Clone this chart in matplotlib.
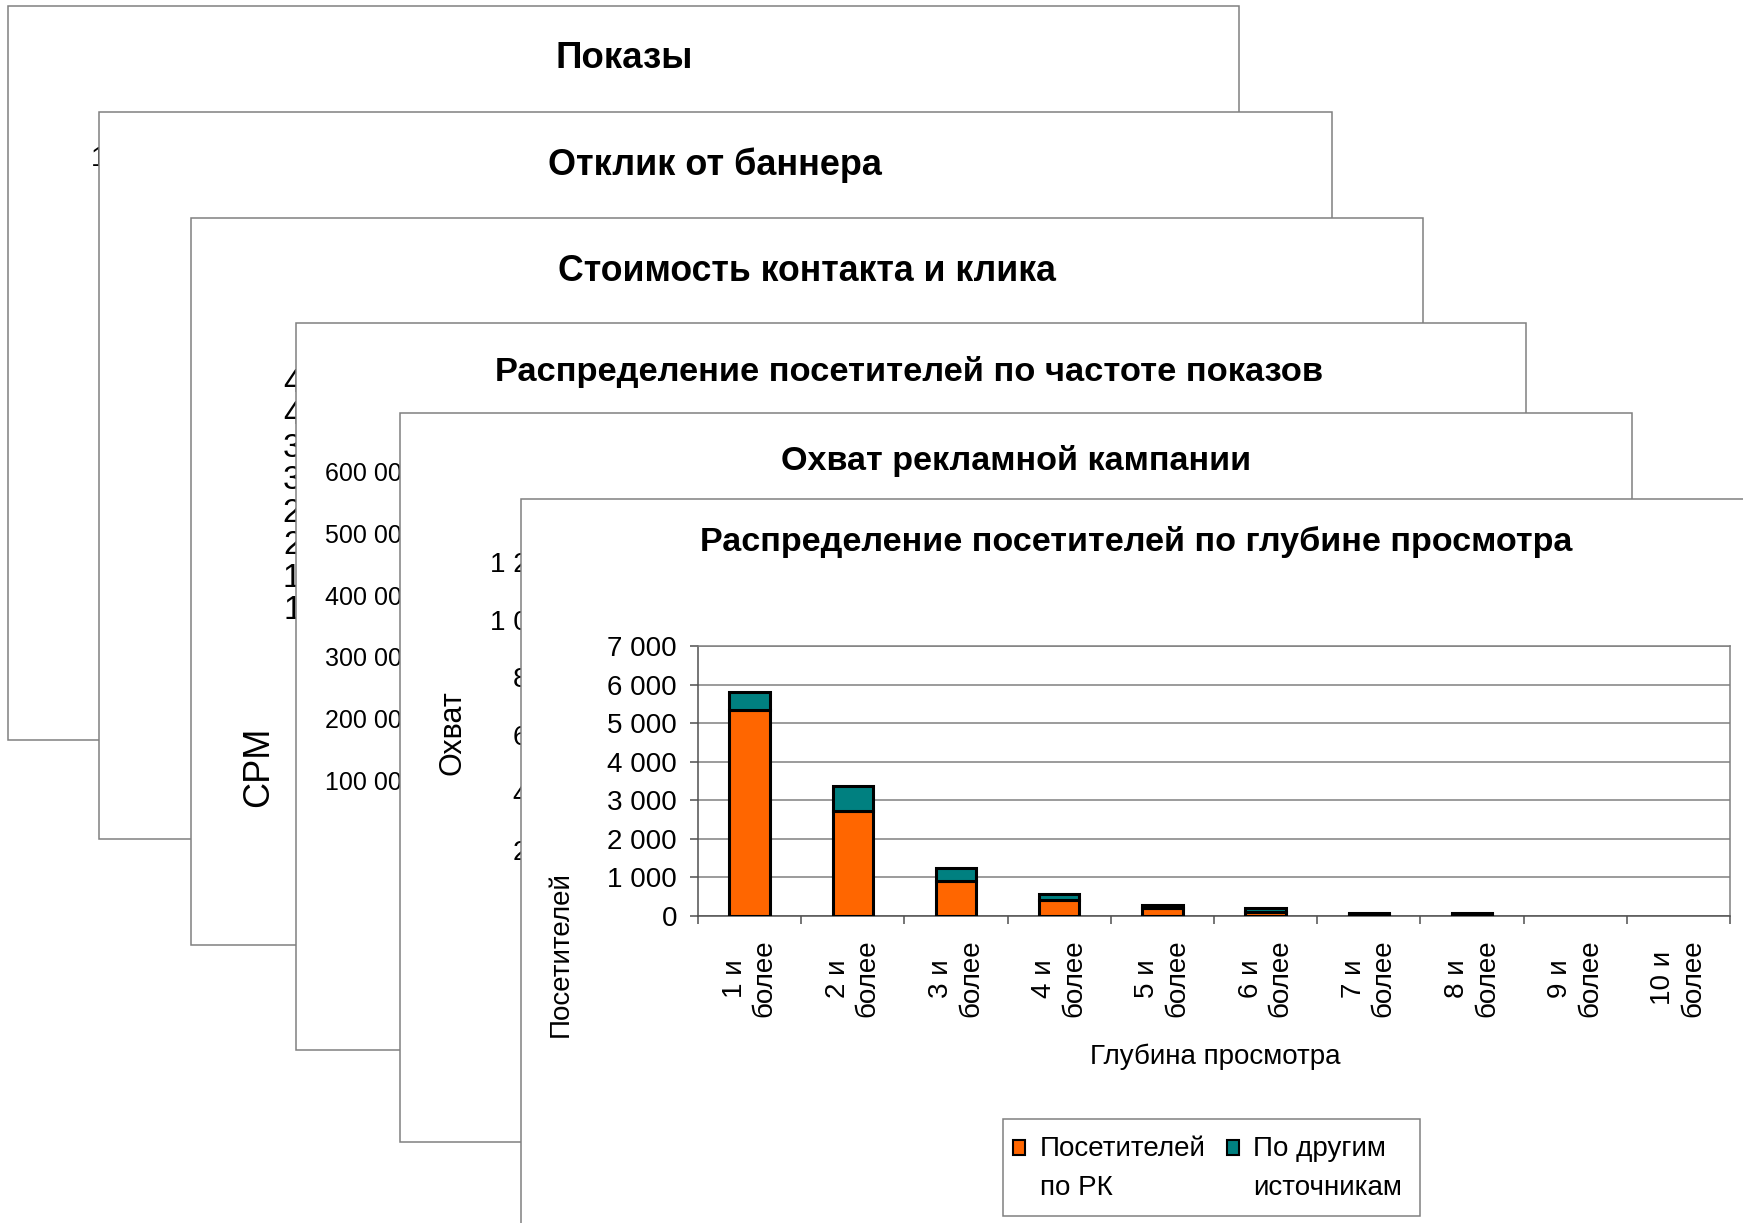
import numpy as np
import matplotlib.pyplot as plt
from matplotlib.patches import Rectangle
from matplotlib.ticker import FuncFormatter

plt.rcParams['font.family'] = ['Liberation Sans', 'DejaVu Sans']

W, H = 1743, 1223  # размер картинки в пикселях

# глубина просмотра
depth = ['1 и\nболее', '2 и\nболее', '3 и\nболее', '4 и\nболее', '5 и\nболее',
         '6 и\nболее', '7 и\nболее', '8 и\nболее', '9 и\nболее', '10 и\nболее']
visitors_rk = [5350, 2720, 910, 410, 200, 110, 50, 40, 0, 0]
visitors_other = [460, 645, 340, 160, 90, 100, 30, 30, 0, 0]
series_names = ['Посетителей\nпо РК', 'По другим\nисточникам']
series_colors = ['#FF6600', '#008080']
depth_ticks = [0, 1000, 2000, 3000, 4000, 5000, 6000, 7000]

slide_titles = ['Показы', 'Отклик от баннера', 'Стоимость контакта и клика',
                'Распределение посетителей по частоте показов',
                'Охват рекламной кампании',
                'Распределение посетителей по глубине просмотра']

# шкалы задних слайдов (почти всё закрыто следующими слайдами)
shows_ticks = [0, 100000, 200000, 300000, 400000, 500000, 600000, 700000, 800000, 900000, 1000000]
cpm_ticks = [0, 5, 10, 15, 20, 25, 30, 35, 40, 45]
freq_ticks = [0, 100000, 200000, 300000, 400000, 500000, 600000]
reach_ticks = [0, 200000, 400000, 600000, 800000, 1000000, 1200000]

# слайды: left, top, right, bottom в пикселях
slides = [(8, 6, 1239, 740), (99, 112, 1332, 839), (191, 218, 1423, 945),
          (296, 323, 1526, 1050), (400, 413, 1632, 1142), (521, 499, 1760, 1240)]
title_xy = [(624, 68), (715, 175), (807, 281), (909, 381), (1016, 470), (1136, 551)]
title_fs = [26.4, 25.9, 25.7, 24.8, 24.6, 24.6]


def box(l, t, r, b):
    return [l / W, 1 - b / H, (r - l) / W, (b - t) / H]


def spaced(v, pos=None):
    return f'{v:,.0f}'.replace(',', ' ')


fig = plt.figure(figsize=(W / 100, H / 100), dpi=100)

for i, (s, title, (tx, ty), fs) in enumerate(zip(slides, slide_titles, title_xy, title_fs)):
    z = 10 * (i + 1)
    l, t, r, b = s
    fig.add_artist(Rectangle((l / W, 1 - b / H), (r - l) / W, (b - t) / H,
                             transform=fig.transFigure, fc='white', ec='#808080',
                             lw=1.1, zorder=z))
    fig.text(tx / W, 1 - ty / H, title, ha='center', va='baseline',
             fontsize=fs, fontweight='bold', zorder=z + 1)


def value_axis(z, l, t, b, ticks, fs, fmt=spaced):
    a = fig.add_axes(box(l, t, l + 40, b), zorder=z)
    a.set_facecolor('none')
    for sp in a.spines.values():
        sp.set_visible(False)
    a.set_ylim(0, ticks[-1])
    a.set_yticks(ticks)
    a.yaxis.set_major_formatter(FuncFormatter(fmt))
    a.set_xticks([])
    a.tick_params(axis='y', length=0, pad=0, labelsize=fs)
    return a


value_axis(12, 215, 156, 700, shows_ticks, 20)
value_axis(32, 320, 380, 672, cpm_ticks, 24, lambda v, p: f'{v:.0f}')
fig.text(259 / W, 1 - 767 / H, 'CPM', rotation=90, ha='center', va='center', fontsize=26, zorder=32)
value_axis(42, 416, 472, 842, freq_ticks, 18)
value_axis(52, 614, 562, 908, reach_ticks, 20)
fig.text(453 / W, 1 - 733 / H, 'Охват', rotation=90, ha='center', va='center', fontsize=22, zorder=52)

# основной график
ax = fig.add_axes(box(698, 646, 1730, 916), zorder=61)
ax.set_facecolor('white')
x = np.arange(len(depth))
lw_rk = [2.2 if v > 0 else 0 for v in visitors_rk]
lw_other = [2.2 if v > 0 else 0 for v in visitors_other]
ax.bar(x, visitors_rk, width=0.39, color=series_colors[0], edgecolor='black', linewidth=lw_rk, zorder=3)
ax.bar(x, visitors_other, width=0.39, bottom=visitors_rk, color=series_colors[1],
       edgecolor='black', linewidth=lw_other, zorder=3)
ax.set_xlim(-0.5, len(depth) - 0.5)
ax.set_ylim(0, 7000)
ax.set_yticks(depth_ticks)
ax.yaxis.set_major_formatter(FuncFormatter(spaced))
ax.yaxis.grid(True, color='#808080', lw=1.1)
ax.set_axisbelow(True)
ax.set_xticks(x, depth)
ax.set_xticks(np.arange(len(depth) + 1) - 0.5, minor=True)
ax.tick_params(axis='x', which='major', length=0, pad=17, labelsize=20, labelrotation=90)
ax.tick_params(axis='x', which='minor', length=5.8, width=1.1, color='#505050')
ax.tick_params(axis='y', length=5.8, width=1.1, color='#505050', pad=9.4, labelsize=20)
for lab in ax.get_xticklabels():
    lab.set_multialignment('center')
for side in ['top', 'right']:
    ax.spines[side].set_color('#808080')
    ax.spines[side].set_linewidth(1.1)
for side in ['left', 'bottom']:
    ax.spines[side].set_color('#505050')
    ax.spines[side].set_linewidth(1.1)

ax.set_ylabel('Посетителей', fontsize=20)
ax.yaxis.label.set(va='center', rotation_mode='default')
ax.yaxis.set_label_coords((561 - 698) / 1032, (916 - 954) / 270)
ax.set_xlabel('Глубина просмотра', fontsize=20)
ax.xaxis.label.set(va='center')
ax.xaxis.set_label_coords((1215 - 698) / 1032, (916 - 1057) / 270)

# легенда
fig.add_artist(Rectangle((1003 / W, 1 - 1216 / H), (1420 - 1003) / W, (1216 - 1119) / H,
                         transform=fig.transFigure, fc='white', ec='#808080', lw=1.1, zorder=62))
for name, color, hx, tx in zip(series_names, series_colors, [1013, 1227], [1040, 1253]):
    fig.add_artist(Rectangle((hx / W, 1 - 1155 / H), 12 / W, 15 / H, transform=fig.transFigure,
                             fc=color, ec='black', lw=1.5, zorder=63))
    fig.text(tx / W, 1 - 1136 / H, name, ha='left', va='top', fontsize=20,
             linespacing=1.65, zorder=63)

fig.savefig('out.png', dpi=100)
